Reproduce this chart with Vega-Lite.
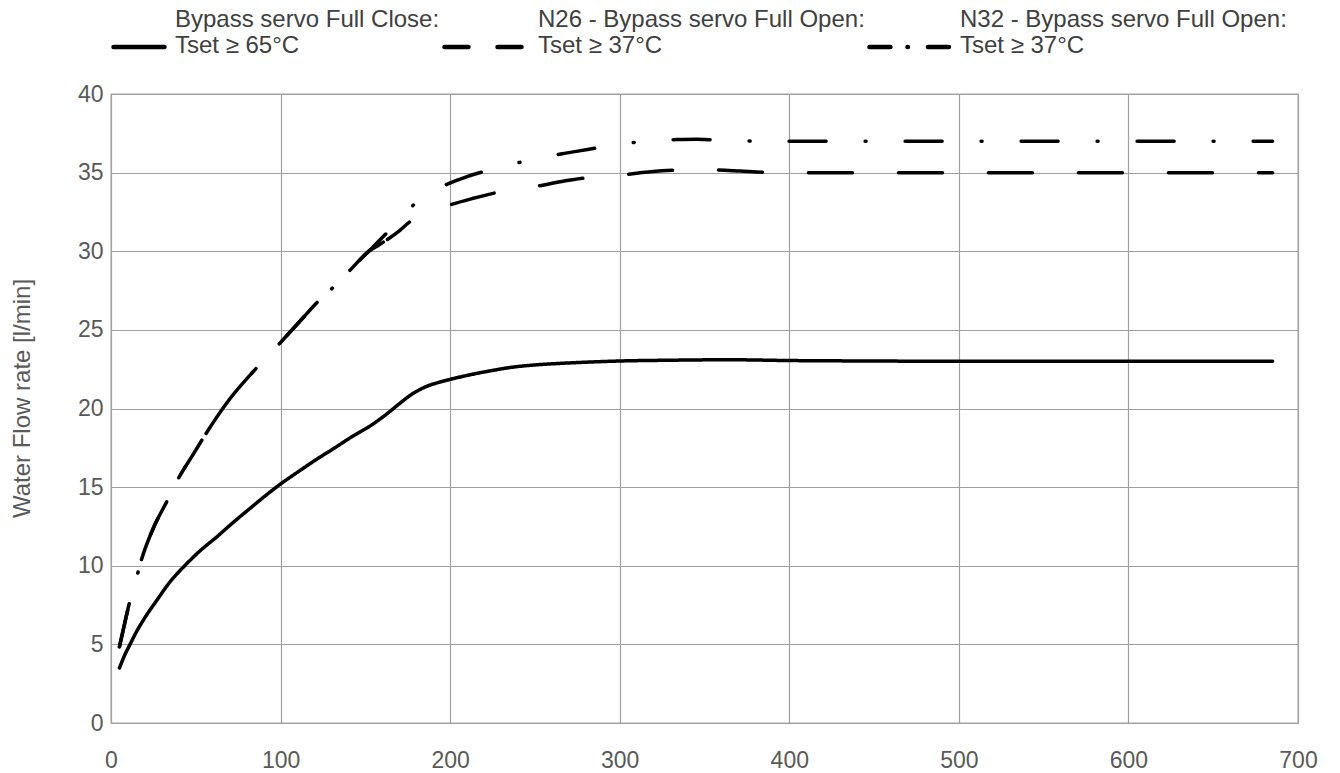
{
  "$schema": "https://vega.github.io/schema/vega-lite/v6.json",
  "width": 1187,
  "height": 629,
  "autosize": {"type": "none"},
  "padding": {"left": 111, "top": 94, "right": 42, "bottom": 50},
  "background": "white",
  "config": {
    "font": "Liberation Sans",
    "view": {"stroke": "#a6a6a6", "strokeWidth": 1.3},
    "axis": {
      "grid": true, "gridColor": "#a0a0a0", "gridWidth": 1.2,
      "domain": false, "ticks": false,
      "labelFont": "Liberation Sans", "labelFontSize": 23, "labelColor": "#595959",
      "titleFont": "Liberation Sans", "titleFontSize": 24, "titleColor": "#595959", "titleFontWeight": "normal"
    }
  },
  "data": {
    "values": [
      {"series": "Bypass servo Full Close: Tset ≥ 65°C", "time": 5, "flow": 3.5},
      {"series": "Bypass servo Full Close: Tset ≥ 65°C", "time": 8, "flow": 4.3},
      {"series": "Bypass servo Full Close: Tset ≥ 65°C", "time": 11, "flow": 4.95},
      {"series": "Bypass servo Full Close: Tset ≥ 65°C", "time": 15, "flow": 5.8},
      {"series": "Bypass servo Full Close: Tset ≥ 65°C", "time": 20, "flow": 6.7},
      {"series": "Bypass servo Full Close: Tset ≥ 65°C", "time": 27, "flow": 7.8},
      {"series": "Bypass servo Full Close: Tset ≥ 65°C", "time": 35, "flow": 9.0},
      {"series": "Bypass servo Full Close: Tset ≥ 65°C", "time": 43, "flow": 9.95},
      {"series": "Bypass servo Full Close: Tset ≥ 65°C", "time": 52, "flow": 10.9},
      {"series": "Bypass servo Full Close: Tset ≥ 65°C", "time": 62, "flow": 11.8},
      {"series": "Bypass servo Full Close: Tset ≥ 65°C", "time": 72, "flow": 12.75},
      {"series": "Bypass servo Full Close: Tset ≥ 65°C", "time": 82, "flow": 13.65},
      {"series": "Bypass servo Full Close: Tset ≥ 65°C", "time": 91, "flow": 14.45},
      {"series": "Bypass servo Full Close: Tset ≥ 65°C", "time": 100, "flow": 15.2},
      {"series": "Bypass servo Full Close: Tset ≥ 65°C", "time": 110, "flow": 15.95},
      {"series": "Bypass servo Full Close: Tset ≥ 65°C", "time": 121, "flow": 16.75},
      {"series": "Bypass servo Full Close: Tset ≥ 65°C", "time": 132, "flow": 17.5},
      {"series": "Bypass servo Full Close: Tset ≥ 65°C", "time": 142, "flow": 18.2},
      {"series": "Bypass servo Full Close: Tset ≥ 65°C", "time": 153, "flow": 18.9},
      {"series": "Bypass servo Full Close: Tset ≥ 65°C", "time": 162, "flow": 19.6},
      {"series": "Bypass servo Full Close: Tset ≥ 65°C", "time": 170, "flow": 20.3},
      {"series": "Bypass servo Full Close: Tset ≥ 65°C", "time": 178, "flow": 20.95},
      {"series": "Bypass servo Full Close: Tset ≥ 65°C", "time": 186, "flow": 21.4},
      {"series": "Bypass servo Full Close: Tset ≥ 65°C", "time": 193, "flow": 21.65},
      {"series": "Bypass servo Full Close: Tset ≥ 65°C", "time": 200, "flow": 21.85},
      {"series": "Bypass servo Full Close: Tset ≥ 65°C", "time": 212, "flow": 22.15},
      {"series": "Bypass servo Full Close: Tset ≥ 65°C", "time": 225, "flow": 22.42},
      {"series": "Bypass servo Full Close: Tset ≥ 65°C", "time": 237, "flow": 22.63},
      {"series": "Bypass servo Full Close: Tset ≥ 65°C", "time": 250, "flow": 22.77},
      {"series": "Bypass servo Full Close: Tset ≥ 65°C", "time": 265, "flow": 22.87},
      {"series": "Bypass servo Full Close: Tset ≥ 65°C", "time": 277, "flow": 22.93},
      {"series": "Bypass servo Full Close: Tset ≥ 65°C", "time": 300, "flow": 23.02},
      {"series": "Bypass servo Full Close: Tset ≥ 65°C", "time": 330, "flow": 23.07},
      {"series": "Bypass servo Full Close: Tset ≥ 65°C", "time": 365, "flow": 23.1},
      {"series": "Bypass servo Full Close: Tset ≥ 65°C", "time": 400, "flow": 23.05},
      {"series": "Bypass servo Full Close: Tset ≥ 65°C", "time": 450, "flow": 23.02},
      {"series": "Bypass servo Full Close: Tset ≥ 65°C", "time": 500, "flow": 23.0},
      {"series": "Bypass servo Full Close: Tset ≥ 65°C", "time": 600, "flow": 23.0},
      {"series": "Bypass servo Full Close: Tset ≥ 65°C", "time": 685, "flow": 23.0},

      {"series": "N26 - Bypass servo Full Open: Tset ≥ 37°C", "time": 5, "flow": 4.85},
      {"series": "N26 - Bypass servo Full Open: Tset ≥ 37°C", "time": 8, "flow": 6.3},
      {"series": "N26 - Bypass servo Full Open: Tset ≥ 37°C", "time": 11, "flow": 7.7},
      {"series": "N26 - Bypass servo Full Open: Tset ≥ 37°C", "time": 14, "flow": 8.8},
      {"series": "N26 - Bypass servo Full Open: Tset ≥ 37°C", "time": 18, "flow": 10.4},
      {"series": "N26 - Bypass servo Full Open: Tset ≥ 37°C", "time": 25, "flow": 12.4},
      {"series": "N26 - Bypass servo Full Open: Tset ≥ 37°C", "time": 33, "flow": 14.1},
      {"series": "N26 - Bypass servo Full Open: Tset ≥ 37°C", "time": 40, "flow": 15.6},
      {"series": "N26 - Bypass servo Full Open: Tset ≥ 37°C", "time": 48, "flow": 17.0},
      {"series": "N26 - Bypass servo Full Open: Tset ≥ 37°C", "time": 56, "flow": 18.4},
      {"series": "N26 - Bypass servo Full Open: Tset ≥ 37°C", "time": 70, "flow": 20.6},
      {"series": "N26 - Bypass servo Full Open: Tset ≥ 37°C", "time": 86, "flow": 22.6},
      {"series": "N26 - Bypass servo Full Open: Tset ≥ 37°C", "time": 100, "flow": 24.2},
      {"series": "N26 - Bypass servo Full Open: Tset ≥ 37°C", "time": 111, "flow": 25.5},
      {"series": "N26 - Bypass servo Full Open: Tset ≥ 37°C", "time": 122, "flow": 26.8},
      {"series": "N26 - Bypass servo Full Open: Tset ≥ 37°C", "time": 131, "flow": 27.7},
      {"series": "N26 - Bypass servo Full Open: Tset ≥ 37°C", "time": 141, "flow": 28.8},
      {"series": "N26 - Bypass servo Full Open: Tset ≥ 37°C", "time": 152, "flow": 30.0},
      {"series": "N26 - Bypass servo Full Open: Tset ≥ 37°C", "time": 158, "flow": 30.4},
      {"series": "N26 - Bypass servo Full Open: Tset ≥ 37°C", "time": 163, "flow": 30.75},
      {"series": "N26 - Bypass servo Full Open: Tset ≥ 37°C", "time": 170, "flow": 31.3},
      {"series": "N26 - Bypass servo Full Open: Tset ≥ 37°C", "time": 176, "flow": 31.85},
      {"series": "N26 - Bypass servo Full Open: Tset ≥ 37°C", "time": 183, "flow": 32.3},
      {"series": "N26 - Bypass servo Full Open: Tset ≥ 37°C", "time": 192, "flow": 32.65},
      {"series": "N26 - Bypass servo Full Open: Tset ≥ 37°C", "time": 200, "flow": 32.95},
      {"series": "N26 - Bypass servo Full Open: Tset ≥ 37°C", "time": 213, "flow": 33.35},
      {"series": "N26 - Bypass servo Full Open: Tset ≥ 37°C", "time": 226, "flow": 33.7},
      {"series": "N26 - Bypass servo Full Open: Tset ≥ 37°C", "time": 239, "flow": 33.95},
      {"series": "N26 - Bypass servo Full Open: Tset ≥ 37°C", "time": 252, "flow": 34.15},
      {"series": "N26 - Bypass servo Full Open: Tset ≥ 37°C", "time": 265, "flow": 34.42},
      {"series": "N26 - Bypass servo Full Open: Tset ≥ 37°C", "time": 278, "flow": 34.64},
      {"series": "N26 - Bypass servo Full Open: Tset ≥ 37°C", "time": 291, "flow": 34.78},
      {"series": "N26 - Bypass servo Full Open: Tset ≥ 37°C", "time": 305, "flow": 34.9},
      {"series": "N26 - Bypass servo Full Open: Tset ≥ 37°C", "time": 318, "flow": 35.05},
      {"series": "N26 - Bypass servo Full Open: Tset ≥ 37°C", "time": 332, "flow": 35.15},
      {"series": "N26 - Bypass servo Full Open: Tset ≥ 37°C", "time": 345, "flow": 35.18},
      {"series": "N26 - Bypass servo Full Open: Tset ≥ 37°C", "time": 357, "flow": 35.17},
      {"series": "N26 - Bypass servo Full Open: Tset ≥ 37°C", "time": 371, "flow": 35.1},
      {"series": "N26 - Bypass servo Full Open: Tset ≥ 37°C", "time": 385, "flow": 35.02},
      {"series": "N26 - Bypass servo Full Open: Tset ≥ 37°C", "time": 400, "flow": 35.0},
      {"series": "N26 - Bypass servo Full Open: Tset ≥ 37°C", "time": 500, "flow": 35.0},
      {"series": "N26 - Bypass servo Full Open: Tset ≥ 37°C", "time": 600, "flow": 35.0},
      {"series": "N26 - Bypass servo Full Open: Tset ≥ 37°C", "time": 685, "flow": 35.0},

      {"series": "N32 - Bypass servo Full Open: Tset ≥ 37°C", "time": 5, "flow": 4.85},
      {"series": "N32 - Bypass servo Full Open: Tset ≥ 37°C", "time": 8, "flow": 6.3},
      {"series": "N32 - Bypass servo Full Open: Tset ≥ 37°C", "time": 11, "flow": 7.7},
      {"series": "N32 - Bypass servo Full Open: Tset ≥ 37°C", "time": 14, "flow": 8.8},
      {"series": "N32 - Bypass servo Full Open: Tset ≥ 37°C", "time": 18, "flow": 10.4},
      {"series": "N32 - Bypass servo Full Open: Tset ≥ 37°C", "time": 25, "flow": 12.4},
      {"series": "N32 - Bypass servo Full Open: Tset ≥ 37°C", "time": 33, "flow": 14.1},
      {"series": "N32 - Bypass servo Full Open: Tset ≥ 37°C", "time": 40, "flow": 15.6},
      {"series": "N32 - Bypass servo Full Open: Tset ≥ 37°C", "time": 48, "flow": 17.0},
      {"series": "N32 - Bypass servo Full Open: Tset ≥ 37°C", "time": 56, "flow": 18.4},
      {"series": "N32 - Bypass servo Full Open: Tset ≥ 37°C", "time": 70, "flow": 20.6},
      {"series": "N32 - Bypass servo Full Open: Tset ≥ 37°C", "time": 86, "flow": 22.6},
      {"series": "N32 - Bypass servo Full Open: Tset ≥ 37°C", "time": 100, "flow": 24.2},
      {"series": "N32 - Bypass servo Full Open: Tset ≥ 37°C", "time": 111, "flow": 25.5},
      {"series": "N32 - Bypass servo Full Open: Tset ≥ 37°C", "time": 122, "flow": 26.8},
      {"series": "N32 - Bypass servo Full Open: Tset ≥ 37°C", "time": 131, "flow": 27.7},
      {"series": "N32 - Bypass servo Full Open: Tset ≥ 37°C", "time": 141, "flow": 28.8},
      {"series": "N32 - Bypass servo Full Open: Tset ≥ 37°C", "time": 152, "flow": 30.0},
      {"series": "N32 - Bypass servo Full Open: Tset ≥ 37°C", "time": 163, "flow": 31.2},
      {"series": "N32 - Bypass servo Full Open: Tset ≥ 37°C", "time": 171, "flow": 32.1},
      {"series": "N32 - Bypass servo Full Open: Tset ≥ 37°C", "time": 179, "flow": 33.0},
      {"series": "N32 - Bypass servo Full Open: Tset ≥ 37°C", "time": 189, "flow": 33.75},
      {"series": "N32 - Bypass servo Full Open: Tset ≥ 37°C", "time": 199, "flow": 34.3},
      {"series": "N32 - Bypass servo Full Open: Tset ≥ 37°C", "time": 210, "flow": 34.75},
      {"series": "N32 - Bypass servo Full Open: Tset ≥ 37°C", "time": 221, "flow": 35.1},
      {"series": "N32 - Bypass servo Full Open: Tset ≥ 37°C", "time": 232, "flow": 35.4},
      {"series": "N32 - Bypass servo Full Open: Tset ≥ 37°C", "time": 243, "flow": 35.7},
      {"series": "N32 - Bypass servo Full Open: Tset ≥ 37°C", "time": 255, "flow": 35.95},
      {"series": "N32 - Bypass servo Full Open: Tset ≥ 37°C", "time": 266, "flow": 36.2},
      {"series": "N32 - Bypass servo Full Open: Tset ≥ 37°C", "time": 277, "flow": 36.4},
      {"series": "N32 - Bypass servo Full Open: Tset ≥ 37°C", "time": 288, "flow": 36.6},
      {"series": "N32 - Bypass servo Full Open: Tset ≥ 37°C", "time": 300, "flow": 36.8},
      {"series": "N32 - Bypass servo Full Open: Tset ≥ 37°C", "time": 311, "flow": 36.95},
      {"series": "N32 - Bypass servo Full Open: Tset ≥ 37°C", "time": 322, "flow": 37.05},
      {"series": "N32 - Bypass servo Full Open: Tset ≥ 37°C", "time": 334, "flow": 37.1},
      {"series": "N32 - Bypass servo Full Open: Tset ≥ 37°C", "time": 345, "flow": 37.12},
      {"series": "N32 - Bypass servo Full Open: Tset ≥ 37°C", "time": 356, "flow": 37.08},
      {"series": "N32 - Bypass servo Full Open: Tset ≥ 37°C", "time": 370, "flow": 37.03},
      {"series": "N32 - Bypass servo Full Open: Tset ≥ 37°C", "time": 380, "flow": 37.0},
      {"series": "N32 - Bypass servo Full Open: Tset ≥ 37°C", "time": 400, "flow": 37.0},
      {"series": "N32 - Bypass servo Full Open: Tset ≥ 37°C", "time": 500, "flow": 37.0},
      {"series": "N32 - Bypass servo Full Open: Tset ≥ 37°C", "time": 600, "flow": 37.0},
      {"series": "N32 - Bypass servo Full Open: Tset ≥ 37°C", "time": 685, "flow": 37.0}
    ]
  },
  "encoding": {
    "x": {
      "field": "time", "type": "quantitative",
      "scale": {"domain": [0, 700], "nice": false},
      "axis": {"values": [0, 100, 200, 300, 400, 500, 600, 700], "title": null, "labelPadding": 26, "labelFlush": false}
    },
    "y": {
      "field": "flow", "type": "quantitative",
      "scale": {"domain": [0, 40], "nice": false},
      "axis": {"values": [0, 5, 10, 15, 20, 25, 30, 35, 40], "title": "Water Flow rate [l/min]", "labelPadding": 8, "titlePadding": 43, "titleY": 304}
    }
  },
  "layer": [
    {
      "transform": [{"filter": "indexof(datum.series, 'N26') != 0 || datum.time <= 163"}],
      "mark": {"type": "line", "interpolate": "monotone", "color": "black", "strokeWidth": 3.5, "strokeCap": "round", "strokeJoin": "round"},
      "encoding": {
        "strokeDash": {
          "field": "series", "type": "nominal",
          "scale": {
            "domain": ["Bypass servo Full Close: Tset ≥ 65°C", "N26 - Bypass servo Full Open: Tset ≥ 37°C", "N32 - Bypass servo Full Open: Tset ≥ 37°C"],
            "range": [[1, 0], [44, 46], [37, 39, 1, 39]]
          },
          "legend": null
        }
      }
    },
    {
      "transform": [{"filter": "indexof(datum.series, 'N26') == 0 && datum.time >= 163"}],
      "mark": {"type": "line", "interpolate": "monotone", "color": "black", "strokeWidth": 3.5, "strokeCap": "round", "strokeJoin": "round", "strokeDashOffset": 16},
      "encoding": {
        "strokeDash": {
          "field": "series", "type": "nominal",
          "scale": {
            "domain": ["Bypass servo Full Close: Tset ≥ 65°C", "N26 - Bypass servo Full Open: Tset ≥ 37°C", "N32 - Bypass servo Full Open: Tset ≥ 37°C"],
            "range": [[1, 0], [44, 46], [37, 39, 1, 39]]
          },
          "legend": null
        }
      }
    },
    {
      "transform": [{"filter": "datum.time < 0"}],
      "mark": {"type": "line", "color": "black", "strokeWidth": 3.5, "strokeCap": "round"},
      "encoding": {
        "strokeDash": {
          "field": "series", "type": "nominal",
          "scale": {
            "domain": ["Bypass servo Full Close: Tset ≥ 65°C", "N26 - Bypass servo Full Open: Tset ≥ 37°C", "N32 - Bypass servo Full Open: Tset ≥ 37°C"],
            "range": [[1, 0], [24, 29], [21, 17, 0.5, 20]]
          },
          "legend": {
            "orient": "top", "direction": "horizontal", "title": null,
            "symbolType": "stroke", "symbolSize": 2601, "symbolStrokeWidth": 4.5, "symbolStrokeColor": "black",
            "labelFont": "Liberation Sans", "labelFontSize": 24, "labelColor": "#404040", "labelLineHeight": 27,
            "labelLimit": 500, "labelOffset": 8, "columnPadding": -5, "offset": 36, "padding": 0, "labelBaseline": "middle",
            "labelExpr": "[split(datum.label, ': ')[0] + ':', split(datum.label, ': ')[1]]",
            "encode": {
              "labels": {"update": {"dy": {"value": -27}}},
              "symbols": {
                "update": {
                  "shape": {"signal": "indexof(datum.value, 'N26') == 0 ? 'M-2.255,0L1,0' : indexof(datum.value, 'N32') == 0 ? 'M-2.14,0L1,0' : 'M-1,0L1,0'"},
                  "strokeCap": {"value": "round"}
                }
              }
            }
          }
        }
      }
    }
  ],
  "resolve": {"scale": {"strokeDash": "independent"}, "legend": {"strokeDash": "independent"}}
}
